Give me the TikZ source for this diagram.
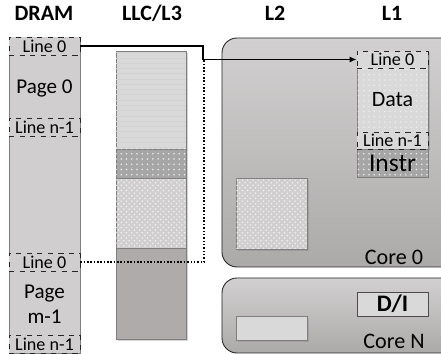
\documentclass[tikz,border=0pt]{standalone}
\usepackage{fontspec}
\setmainfont{Carlito}
\usepackage{xcolor}
\usetikzlibrary{arrows.meta,positioning,calc,shadows,patterns}
\definecolor{dramgray}{HTML}{D0CECE}
\definecolor{lightgray}{HTML}{D9D9D9}
\definecolor{midgray}{HTML}{A6A6A6}
\definecolor{darkgray}{HTML}{AFABAB}
\definecolor{coretop}{HTML}{D2D0D0}
\definecolor{corebot}{HTML}{ACA9A9}
\definecolor{edgegray}{HTML}{7F7F7F}
\tikzset{
  colhead/.style={font=\fontsize{12.5}{14}\selectfont\bfseries},
  region/.style={draw=edgegray, inner sep=0pt, minimum width=1.4cm},
  linebox/.style={draw=black!85, dashed, fill=dramgray, inner sep=0pt, minimum width=1.42cm, minimum height=0.36cm, font=\fontsize{10.3}{11}\selectfont},
  corebox/.style={draw=black!85, line width=0.5pt, rounded corners=0.3cm, top color=coretop, bottom color=corebot},
  dotfill/.style={postaction={pattern=dots, pattern color=white!85!gray}},
  shade/.style={drop shadow={opacity=0.35, shadow xshift=1.2pt, shadow yshift=-1.2pt}},
  conn/.style={line width=0.9pt},
  bigtext/.style={font=\fontsize{12}{14.5}\selectfont, align=center},
  midtext/.style={font=\fontsize{12.6}{14}\selectfont}
}
\begin{document}
\begin{tikzpicture}[x=0.02cm,y=-0.02cm]
  \useasboundingbox (0,0) rectangle (441,354);
  \clip (0,0) rectangle (441,354);
  % headers
  \node[colhead] (hdram) at (44,13) {DRAM};
  \node[colhead] (hllc) at (152,13) {LLC/L3};
  \node[colhead] (hl2) at (275,13) {L2};
  \node[colhead] (hl1) at (392,13) {L1};
  % cores
  \draw[corebox] (222,38) rectangle (460,267);
  \draw[corebox] (222,278) rectangle (460,353);
  \node[midtext] (core0) at (394,257) {Core 0};
  \node[midtext] (coreN) at (394,341) {Core N};
  % DRAM
  \node[region, fill=dramgray, minimum width=1.42cm, minimum height=6.32cm] (dram) at (44.5,195) {};
  \node[linebox] (dl0a) at (44.5,46) {Line 0};
  \node[linebox] (dlna) at (44.5,127) {Line n-1};
  \node[linebox] (dl0b) at (44.5,262) {Line 0};
  \node[linebox] (dlnb) at (44.5,344) {Line n-1};
  \node[bigtext] (page0) at (44.5,88) {Page 0};
  \node[bigtext] (pagem) at (44.5,304) {Page\\m-1};
  % LLC/L3
  \node[region, shade, fill=lightgray, minimum height=5.76cm] (llc) at (151,195) {};
  \node[region, fill=lightgray, minimum height=1.96cm,
        postaction={pattern=horizontal lines, pattern color=gray!35}] (llca) at (151,100) {};
  \node[region, fill=midgray, dotfill, minimum height=0.58cm] (llcb) at (151,163.5) {};
  \node[region, fill=dramgray, minimum height=1.4cm,
        postaction={pattern=crosshatch dots, pattern color=white!90!gray}] (llcc) at (151,213) {};
  \node[region, fill=darkgray, minimum height=1.82cm] (llcd) at (151,293.5) {};
  % L2
  \node[region, shade, fill=dramgray, minimum width=1.42cm, minimum height=1.42cm,
        postaction={pattern=crosshatch dots, pattern color=white!90!gray}] (l2a) at (271.5,213.5) {};
  \node[region, shade, fill=lightgray, minimum width=1.42cm, minimum height=0.48cm] (l2n) at (271.5,328) {};
  % L1
  \node[region, shade, fill=lightgray, dotfill, minimum width=1.42cm, minimum height=1.96cm] (l1d) at (392.5,100) {};
  \node[region, fill=midgray, dotfill, minimum width=1.42cm, minimum height=0.56cm,
        font=\fontsize{14.5}{15}\selectfont] (l1i) at (392.5,163) {Instr};
  \node[linebox, fill=lightgray, minimum height=0.34cm] (l1l0) at (392.5,59.5) {Line 0};
  \node[linebox, fill=lightgray, minimum height=0.34cm] (l1ln) at (392.5,140.5) {Line n-1};
  \node[bigtext, font=\fontsize{12.5}{14}\selectfont] (data) at (392.5,100) {Data};
  \node[draw=black!70, fill=lightgray, minimum width=1.42cm, minimum height=0.48cm, inner sep=0pt,
        font=\fontsize{13.5}{14}\selectfont\bfseries] (l1n) at (392.5,304) {D/I};
  % connectors
  \coordinate (jog) at (203,55);
  \coordinate (jogtop) at (204,60);
  \draw[conn, densely dotted] (dl0b.east) -| (jogtop);
  \draw[conn, -{Latex[length=4pt,width=3.5pt]}] (dl0a.east) -| (jog) |- (l1l0.west);
\end{tikzpicture}
\end{document}
